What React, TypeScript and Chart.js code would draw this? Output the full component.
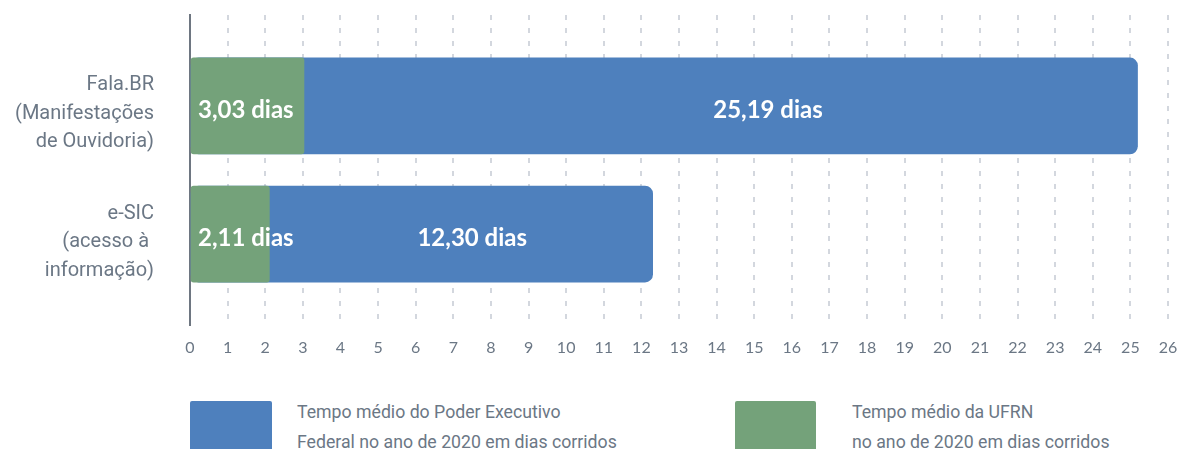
import React, { useEffect, useRef } from "react";
import { Chart, registerables } from "chart.js";

Chart.register(...registerables);

const categories: string[][] = [
  ["Fala.BR", "(Manifestações", "de Ouvidoria)"],
  ["e-SIC", "(acesso à ", "informação)"],
];
const federalDays = [25.19, 12.3];
const ufrnDays = [3.03, 2.11];
const xTickMax = 26;
const federalLegend = ["Tempo médio do Poder Executivo", "Federal no ano de 2020 em dias corridos"];
const ufrnLegend = ["Tempo médio da UFRN", "no ano de 2020 em dias corridos"];

const BLUE = "#4e80bd";
const GREEN = "#74a27a";
const GRAY_TEXT = "#6b7785";

const fmt = (v: number) => v.toFixed(2).replace(".", ",") + " dias";

const labelPlugin = {
  id: "barLabels",
  afterDatasetsDraw(chart: any) {
    const ctx = chart.ctx;
    const xs = chart.scales.x;
    const greenMeta = chart.getDatasetMeta(0);
    ctx.save();
    ctx.fillStyle = "#ffffff";
    ctx.font = "bold 24px Lato";
    ctx.textBaseline = "middle";
    categories.forEach((_, i) => {
      const el = greenMeta.data[i];
      const y = el.y + 4;
      ctx.textAlign = "left";
      ctx.fillText(fmt(ufrnDays[i]), xs.getPixelForValue(0) + 8, y);
      ctx.textAlign = "center";
      ctx.fillText(fmt(federalDays[i]), xs.getPixelForValue(federalDays[i] * 0.61), y);
    });
    ctx.restore();
  },
};

export default function App() {
  const ref = useRef<HTMLCanvasElement | null>(null);
  useEffect(() => {
    if (!ref.current) return;
    const chart = new Chart(ref.current, {
      type: "bar",
      data: {
        datasets: [
          {
            label: ufrnLegend.join(" "),
            data: ufrnDays.map((v, i) => ({ x: v, y: i })) as any,
            backgroundColor: GREEN,
            borderRadius: 3,
            borderSkipped: false,
            grouped: false,
            barThickness: 96,
          } as any,
          {
            label: federalLegend.join(" "),
            data: federalDays.map((v, i) => ({ x: v, y: i })) as any,
            backgroundColor: BLUE,
            borderRadius: 8,
            borderSkipped: false,
            grouped: false,
            barThickness: 96,
          } as any,
        ],
      },
      options: {
        indexAxis: "y",
        animation: false,
        responsive: false,
        layout: { padding: { top: 15, right: 12, left: 0, bottom: 0 } },
        plugins: { legend: { display: false }, tooltip: { enabled: false } },
        scales: {
          x: {
            type: "linear",
            position: "bottom",
            min: 0,
            max: xTickMax,
            ticks: {
              stepSize: 1,
              color: GRAY_TEXT,
              font: { family: "Lato", size: 16 },
              padding: 13,
              autoSkip: false,
              maxRotation: 0,
            },
            grid: { color: "#d3d7de", lineWidth: 2, drawTicks: false },
            border: { display: false, dash: [5, 8] },
            afterFit: (s: any) => {
              s.height = 45;
              s.paddingLeft = 0;
              s.paddingRight = 0;
            },
          },
          y: {
            type: "linear",
            reverse: true,
            offset: false,
            bounds: "data",
            min: -0.71,
            max: 1.71,
            afterBuildTicks: (s: any) => {
              s.ticks = categories.map((_, i) => ({ value: i }));
            },
            afterFit: (s: any) => {
              s.width = 190;
              s.paddingTop = 0;
              s.paddingBottom = 0;
            },
            ticks: {
              autoSkip: false,
              callback: (v: any) => categories[Math.round(Number(v))] ?? "",
              color: GRAY_TEXT,
              font: { family: "Roboto", size: 20, lineHeight: 1.425 },
              padding: 36,
              labelOffset: 8,
            },
            grid: { display: false, drawTicks: false, offset: false },
            border: { display: true, color: "#6e7681", width: 2 },
          },
        },
      } as any,
      plugins: [labelPlugin],
    });
    return () => chart.destroy();
  }, []);

  const legendText: React.CSSProperties = {
    position: "absolute",
    top: 397,
    fontFamily: "Roboto",
    fontSize: 17.7,
    lineHeight: "30px",
    color: GRAY_TEXT,
    whiteSpace: "nowrap",
  };
  return (
    <div style={{ position: "absolute", left: 0, top: 0, width: 1180, height: 449, overflow: "hidden", background: "#fff" }}>
      <canvas ref={ref} width={1180} height={370} style={{ position: "absolute", left: 0, top: 0 }} />
      <div style={{ position: "absolute", left: 190, top: 401, width: 82, height: 52, background: BLUE, borderRadius: 2 }} />
      <div style={{ ...legendText, left: 297 }}>
        {federalLegend.map((t) => (
          <div key={t}>{t}</div>
        ))}
      </div>
      <div style={{ position: "absolute", left: 735, top: 401, width: 81, height: 52, background: GREEN, borderRadius: 2 }} />
      <div style={{ ...legendText, left: 852 }}>
        {ufrnLegend.map((t) => (
          <div key={t}>{t}</div>
        ))}
      </div>
    </div>
  );
}
